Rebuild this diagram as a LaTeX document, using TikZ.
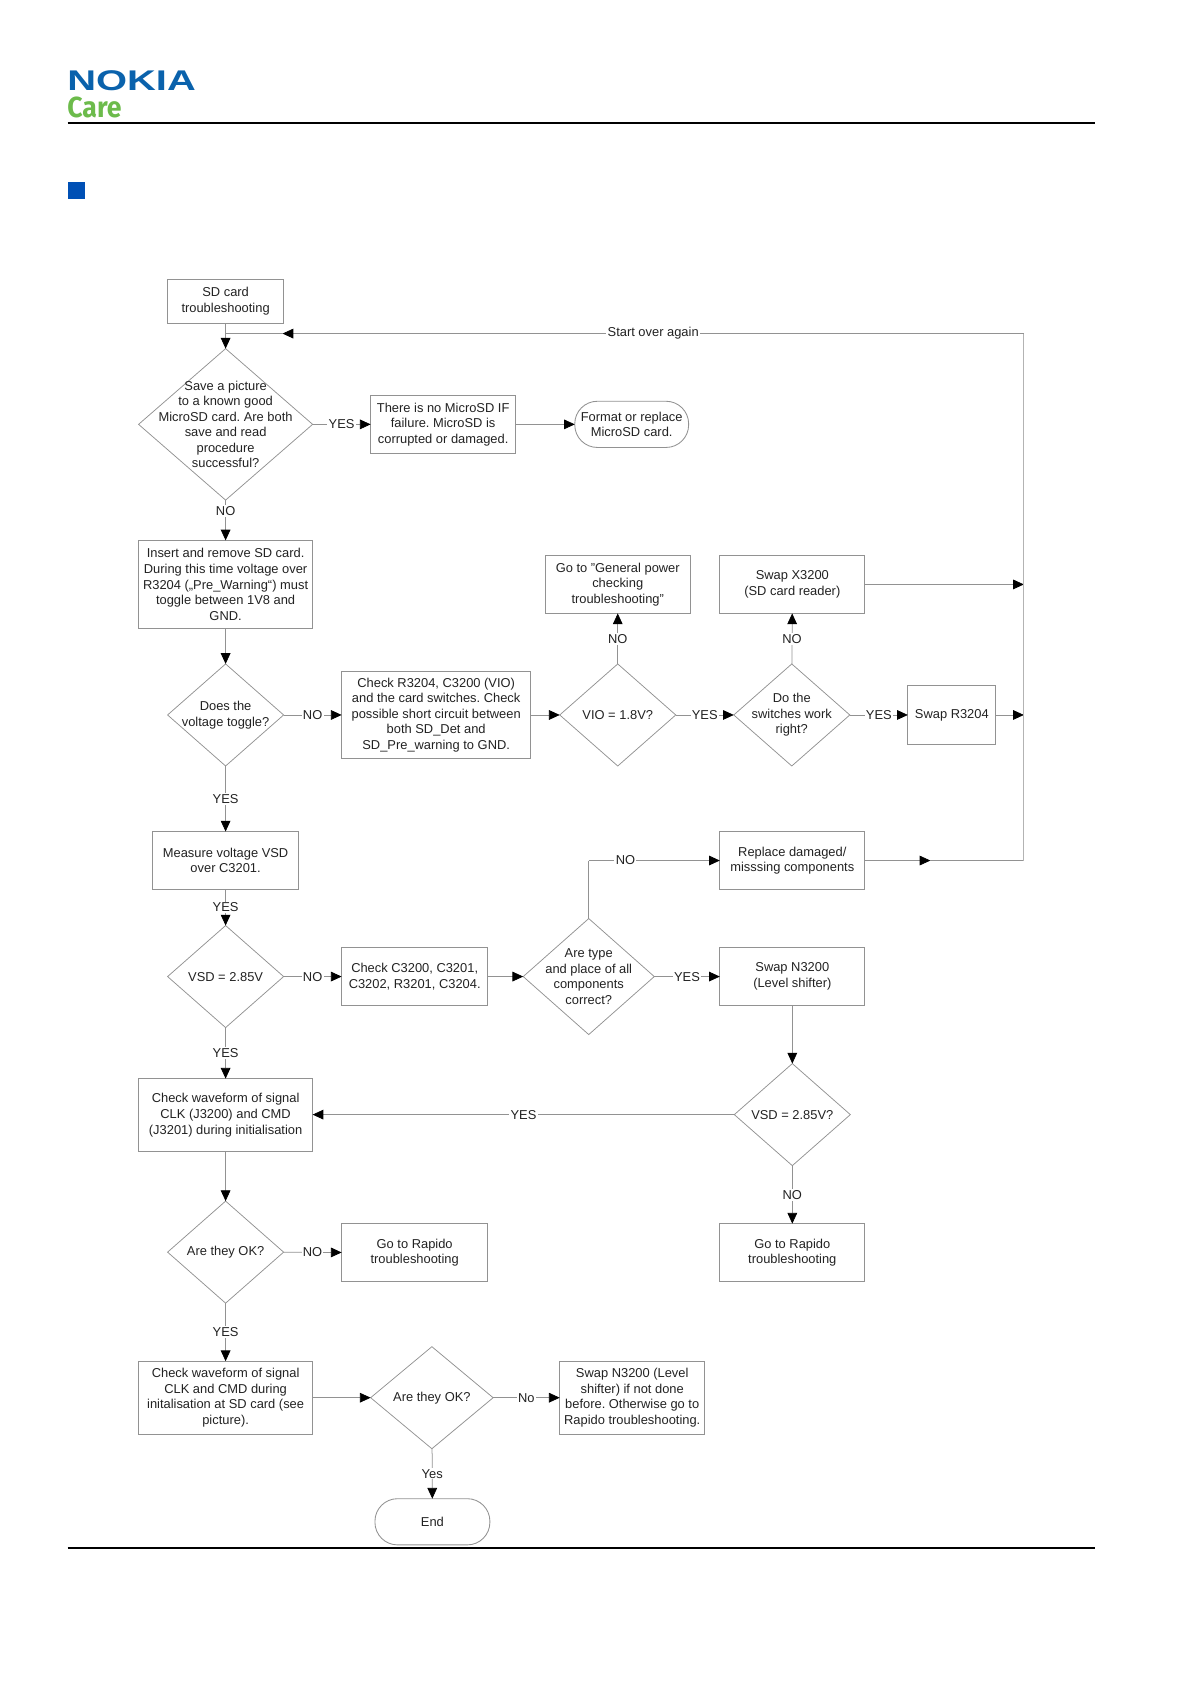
\documentclass[tikz,border=0pt]{standalone}
\usepackage{fontspec}
\setmainfont{Liberation Sans}
\newfontfamily\carefont{Fira Sans}
\usetikzlibrary{shapes.geometric,arrows.meta}
\definecolor{linegray}{HTML}{929292}
\definecolor{txt}{HTML}{222222}
\definecolor{nokiablue}{HTML}{0A62AC}
\definecolor{caregreen}{HTML}{6CBB4B}
\definecolor{sqblue}{HTML}{0050B5}
\tikzset{
  x=1pt,y=-1pt,
  basefont/.style={font=\fontsize{12}{14.5}\selectfont,text=txt,align=center},
  stepbox/.style={basefont,draw=linegray,line width=0.8pt,rectangle,inner sep=0pt,outer sep=0pt},
  termbox/.style={stepbox,rounded corners=21pt},
  dec/.style={draw=linegray,line width=0.7pt,diamond,inner sep=0pt,outer sep=0pt},
  dtext/.style={basefont,inner sep=0pt},
  link/.style={draw=linegray,line width=0.7pt},
  arr/.style={link,-{Triangle[length=10pt,width=9pt,black]}},
  lab/.style={basefont,fill=white,inner sep=1.2pt,midway},
  rule/.style={draw=black,line width=1.6pt},
}
\newcommand{\decision}[6]{% name, x, y, w, h, text
  \node[dec,minimum width=#4pt,minimum height=#5pt,label={[dtext]center:{#6}}] (#1) at (#2,#3) {};}
\frenchspacing
\begin{document}
\begin{tikzpicture}
\useasboundingbox (0,0) rectangle (1108.6,1567.5);
% header and footer
\node[anchor=center,inner sep=0pt,text=nokiablue,font=\fontsize{26.5}{28}\bfseries\selectfont] (logo) at (122.5,75.5) {\scalebox{1.4}[1]{NOKIA}};
\node[anchor=west,inner sep=0pt,text=caregreen,font=\carefont\fontsize{27}{28}\bfseries\selectfont] (care) at (62.5,100) {\scalebox{0.92}[1]{Care}};
\coordinate (hl) at (63,114.5); \coordinate (hr) at (1019,114.5);
\draw[rule] (hl) -- (hr);
\coordinate (fl) at (63,1441); \coordinate (fr) at (1019,1441);
\draw[rule] (fl) -- (fr);
\fill[sqblue] (63,169.5) rectangle (79.5,185.5);
% nodes
\node[stepbox,minimum width=108pt,minimum height=41pt] (start) at (210,280.5) {SD card\\troubleshooting};
\decision{d1}{210}{395}{162}{141}{Save a picture\\to a known good\\MicroSD card. Are both\\save and read\\procedure\\successful?}
\node[stepbox,minimum width=135pt,minimum height=54pt] (nofail) at (412.5,395) {There is no MicroSD IF\\failure. MicroSD is\\corrupted or damaged.};
\node[termbox,minimum width=106pt,minimum height=43pt] (format) at (588,395) {Format or replace\\MicroSD card.};
\node[stepbox,minimum width=162pt,minimum height=82pt] (insert) at (210,544) {Insert and remove SD card.\\During this time voltage over\\R3204 („Pre\_Warning“) must\\toggle between 1V8 and\\GND.};
\node[stepbox,minimum width=135pt,minimum height=54pt] (general) at (575,544) {Go to "General power\\checking\\troubleshooting"};
\node[stepbox,minimum width=135pt,minimum height=54pt] (x3200) at (737.5,544) {Swap X3200\\(SD card reader)};
\decision{does}{210}{665.5}{108}{95}{Does the\\voltage toggle?}
\node[stepbox,minimum width=176pt,minimum height=81pt] (r3204chk) at (406,665.5) {Check R3204, C3200 (VIO)\\and the card switches. Check\\possible short circuit between\\both SD\_Det and\\SD\_Pre\_warning to GND.};
\decision{vio}{575}{665.5}{108}{95}{VIO = 1.8V?}
\decision{sw}{737}{665.5}{108}{95}{Do the\\switches work\\right?}
\node[stepbox,minimum width=82pt,minimum height=55pt] (r3204) at (886,665.5) {Swap R3204};
\node[stepbox,minimum width=136pt,minimum height=54pt] (measure) at (210,801) {Measure voltage VSD\\over C3201.};
\node[stepbox,minimum width=135pt,minimum height=54pt] (replace) at (737.5,801) {Replace damaged/\\misssing components};
\decision{vsd}{210}{909}{108}{95}{VSD = 2.85V}
\node[stepbox,minimum width=136pt,minimum height=54pt] (c3200) at (386,909) {Check C3200, C3201,\\C3202, R3201, C3204.};
\decision{type}{548}{909}{122}{108}{Are type\\and place of all\\components\\correct?}
\node[stepbox,minimum width=135pt,minimum height=54pt] (n3200) at (737.5,909) {Swap N3200\\(Level shifter)};
\node[stepbox,minimum width=162pt,minimum height=68pt] (wave) at (210,1038) {Check waveform of signal\\CLK (J3200) and CMD\\(J3201) during initialisation};
\decision{vsdb}{737.5}{1037.5}{108}{95}{VSD = 2.85V?}
\decision{ok}{210}{1165.5}{108}{95}{Are they OK?}
\node[stepbox,minimum width=136pt,minimum height=54pt] (rap) at (386,1166) {Go to Rapido\\troubleshooting};
\node[stepbox,minimum width=135pt,minimum height=54pt] (rapb) at (737.5,1166) {Go to Rapido\\troubleshooting};
\node[stepbox,minimum width=162pt,minimum height=68pt] (waveb) at (210,1301) {Check waveform of signal\\CLK and CMD during\\initalisation at SD card (see\\picture).};
\decision{okb}{402}{1301}{114}{95}{Are they OK?}
\node[stepbox,minimum width=135pt,minimum height=68pt] (last) at (588.5,1301) {Swap N3200 (Level\\shifter) if not done\\before. Otherwise go to\\Rapido troubleshooting.};
\node[termbox,minimum width=107pt,minimum height=43pt] (finish) at (402.5,1416.5) {End};
% helper coordinates
\coordinate (rail1) at (953,544);
\coordinate (rail2) at (953,665.5);
\coordinate (railb) at (953,801);
\coordinate (railt) at (953,310.5);
\coordinate (midr) at (866,801);
\coordinate (tipt) at (263,310.5);
\coordinate (join) at (210,310.5);
\coordinate (typec) at (548,801);
% connectors
\draw[arr] (start) -- (d1);
\draw[arr] (d1) -- node[lab] {YES} (nofail);
\draw[arr] (nofail) -- (format);
\draw[arr] (d1) -- node[lab,pos=.27] {NO} (insert);
\draw[arr] (insert) -- (does);
\draw[arr] (does) -- node[lab] {NO} (r3204chk);
\draw[arr] (r3204chk) -- (vio);
\draw[arr] (vio) -- node[lab] {NO} (general);
\draw[arr] (vio) -- node[lab] {YES} (sw);
\draw[arr] (sw) -- node[lab] {NO} (x3200);
\draw[arr] (sw) -- node[lab] {YES} (r3204);
\draw[arr] (x3200) -- (rail1);
\draw[arr] (r3204) -- (rail2);
\draw[arr] (does) -- node[lab] {YES} (measure);
\draw[arr] (measure) -- node[lab] {YES} (vsd);
\draw[arr] (vsd) -- node[lab] {NO} (c3200);
\draw[arr] (c3200) -- (type);
\draw[arr] (type) -- node[lab] {YES} (n3200);
\draw[link] (type) -- (typec);
\draw[arr] (typec) -- node[lab,pos=.28] {NO} (replace);
\draw[arr] (replace) -- (midr);
\draw[link] (midr) -- (railb);
\draw[link,draw=linegray!70] (railb) -- (railt);
\draw[arr] (railt) -- node[lab] {Start over again} (tipt);
\draw[link] (tipt) -- (join);
\draw[arr] (vsd) -- node[lab] {YES} (wave);
\draw[arr] (n3200) -- (vsdb);
\draw[arr] (vsdb) -- node[lab] {YES} (wave.east |- vsdb);
\draw[arr] (vsdb) -- node[lab] {NO} (rapb);
\draw[arr] (wave) -- (ok);
\draw[arr] (ok) -- node[lab] {NO} (rap);
\draw[arr] (ok) -- node[lab] {YES} (waveb);
\draw[arr] (waveb) -- (okb);
\draw[arr] (okb) -- node[lab] {No} (last);
\draw[arr] (okb) -- node[lab] {Yes} (finish);
\end{tikzpicture}
\end{document}
